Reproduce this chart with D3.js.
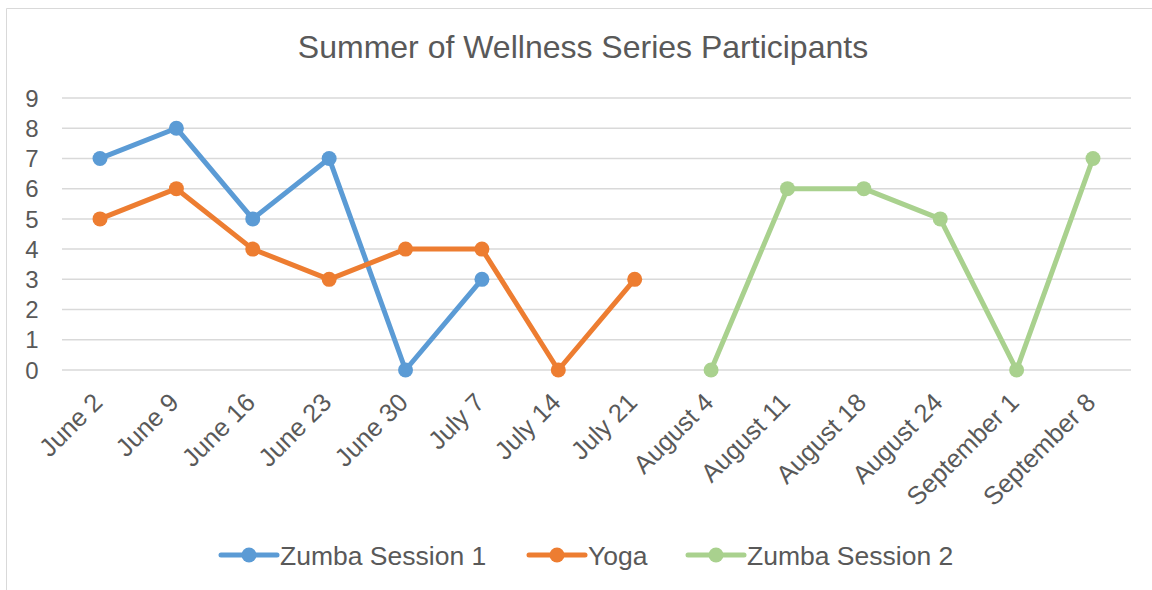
<!DOCTYPE html>
<html><head><meta charset="utf-8">
<script src="https://cdn.jsdelivr.net/npm/d3@7"></script>
<style>body{margin:0;background:#fff;}svg{display:block;font-family:"Liberation Sans",Arial,sans-serif;}</style>
</head><body><svg id="c" width="1152" height="590"></svg>
<script>
const categories = ["June 2","June 9","June 16","June 23","June 30","July 7","July 14","July 21","August 4","August 11","August 18","August 24","September 1","September 8"];
const zumba1 = [7,8,5,7,0,3,null,null,null,null,null,null,null,null];
const yoga = [5,6,4,3,4,4,0,3,null,null,null,null,null,null];
const zumba2 = [null,null,null,null,null,null,null,null,0,6,6,5,0,7];
const seriesNames = ["Zumba Session 1","Yoga","Zumba Session 2"];
const seriesColors = ["#5B9BD5","#ED7D31","#A9D18E"];
const yTicks = [0,1,2,3,4,5,6,7,8,9];
const title = "Summer of Wellness Series Participants";

const series = [zumba1, yoga, zumba2].map((v,i)=>({name:seriesNames[i],color:seriesColors[i],values:v}));
const svg = d3.select("#c");
// chart border
svg.append("path").attr("d","M6.5,600 V8.5 H1160").attr("fill","none").attr("stroke","#d9d9d9").attr("stroke-width",1);

const x = d3.scalePoint().domain(categories).range([100,1093]);
const y = d3.scaleLinear().domain([0,9]).range([370,98]);
const gridL = 62, gridR = 1131;

svg.append("text").attr("x",583).attr("y",58).attr("text-anchor","middle")
  .attr("font-size",32).attr("fill","#595959").text(title);

svg.append("g").selectAll("line").data(yTicks).join("line")
  .attr("x1",gridL).attr("x2",gridR).attr("y1",d=>y(d)).attr("y2",d=>y(d))
  .attr("stroke","#d9d9d9").attr("stroke-width",1.5);

svg.append("g").selectAll("text").data(yTicks).join("text")
  .attr("x",38.5).attr("y",d=>y(d)).attr("dy","0.36em").attr("text-anchor","end")
  .attr("font-size",24).attr("fill","#595959").text(d=>d);

svg.append("g").selectAll("text").data(categories).join("text")
  .attr("transform",d=>`translate(${x(d)+4},${404}) rotate(-45)`)
  .attr("text-anchor","end").attr("font-size",25.5).attr("fill","#595959").text(d=>d);

const line = d3.line().defined(d=>d.v!=null).x(d=>x(d.c)).y(d=>y(d.v));
series.forEach(s=>{
  const pts = s.values.map((v,i)=>({c:categories[i],v}));
  svg.append("path").datum(pts).attr("d",line).attr("fill","none")
    .attr("stroke",s.color).attr("stroke-width",5).attr("stroke-linejoin","round").attr("stroke-linecap","round");
  svg.append("g").selectAll("circle").data(pts.filter(p=>p.v!=null)).join("circle")
    .attr("cx",p=>x(p.c)).attr("cy",p=>y(p.v)).attr("r",7.5).attr("fill",s.color);
});

// legend
const legX = [221, 529, 688];
const lg = svg.append("g");
series.forEach((s,i)=>{
  const g = lg.append("g").attr("transform",`translate(${legX[i]},555)`);
  g.append("line").attr("x1",0).attr("x2",56).attr("stroke",s.color).attr("stroke-width",5).attr("stroke-linecap","round");
  g.append("circle").attr("cx",28).attr("r",7.5).attr("fill",s.color);
  g.append("text").attr("x",59).attr("dy","0.36em").attr("font-size",26.5).attr("fill","#595959").text(s.name);
});
</script></body></html>
